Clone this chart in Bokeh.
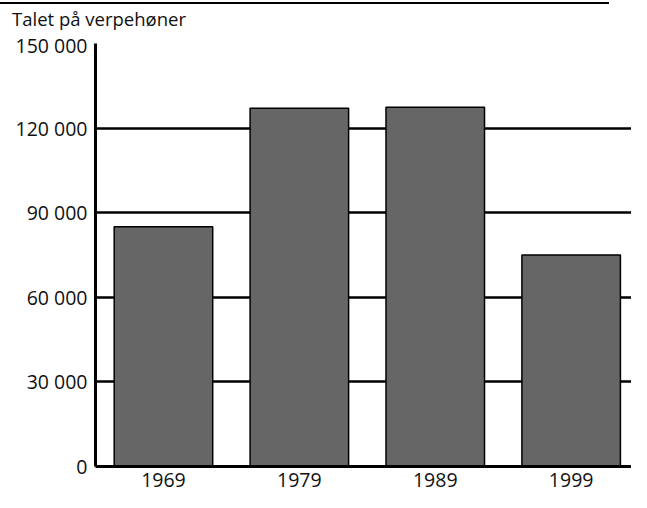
from bokeh.plotting import figure
from bokeh.models import Range1d, FixedTicker, Div
from bokeh.layouts import column
from bokeh.embed import file_html
from bokeh.resources import INLINE

years = ["1969", "1979", "1989", "1999"]
hens = [85000, 127000, 127400, 75000]
y_ticks = [0, 30000, 60000, 90000, 120000, 150000]
y_tick_labels = ["0", "30 000", "60 000", "90 000", "120 000", "150 000"]
title_text = "Talet på verpehøner"

FONT = "Open Sans"
xs = [i + 0.5 for i in range(len(years))]

p = figure(
    width=631, height=461,
    x_range=Range1d(0, 3.944), y_range=Range1d(0, 150000),
    output_backend="svg", toolbar_location=None,
    min_border_left=95, min_border_right=0,
    min_border_top=12, min_border_bottom=26,
)

p.outline_line_color = None
p.background_fill_color = "white"
p.border_fill_color = "white"

p.vbar(x=xs, top=hens, width=0.725, fill_color="#666666",
       line_color="black", line_width=1.5)

p.xgrid.grid_line_color = None
p.ygrid.ticker = FixedTicker(ticks=y_ticks)
p.ygrid.grid_line_color = "black"
p.ygrid.grid_line_width = 2.5

p.yaxis.ticker = FixedTicker(ticks=y_ticks)
p.yaxis.major_label_overrides = {t: l for t, l in zip(y_ticks, y_tick_labels)}
p.xaxis.ticker = FixedTicker(ticks=xs)
p.xaxis.major_label_overrides = {x: y for x, y in zip(xs, years)}

for ax in (p.xaxis, p.yaxis):
    ax.axis_line_color = "black"
    ax.axis_line_width = 3
    ax.major_tick_line_color = None
    ax.minor_tick_line_color = None
    ax.major_tick_out = 0
    ax.major_tick_in = 0
    ax.minor_tick_out = 0
    ax.minor_tick_in = 0
    ax.major_label_text_font = FONT
    ax.major_label_text_font_size = "19.5px"
    ax.major_label_text_color = "#111111"
p.yaxis.major_label_standoff = 8
p.xaxis.major_label_standoff = 6

header = Div(
    text=('<div style="display:block;width:609px;border-top:2px solid #000;'
          'padding:3px 0 0 12px;line-height:24px;font-family:\'Open Sans\';'
          'font-size:18.5px;color:#111;white-space:nowrap;">'
          + title_text + '</div>'),
    width=621, height=29, margin=(2, 0, 0, 0),
)

layout = column(header, p, spacing=0)
open("out.html", "w").write(file_html(layout, INLINE))
